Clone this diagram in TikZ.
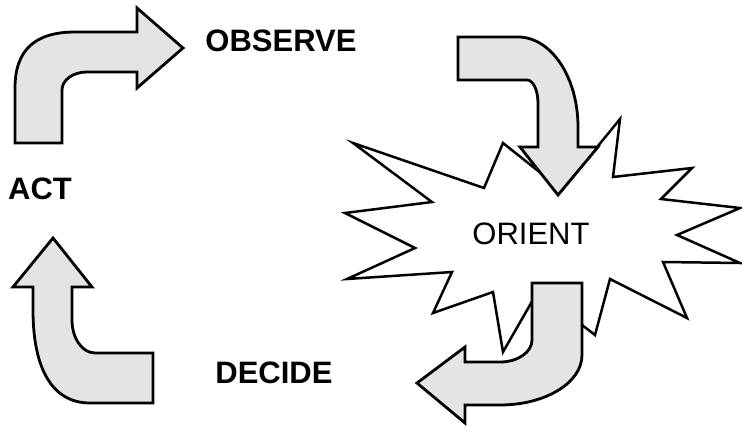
\documentclass[tikz,border=0pt]{standalone}
\usepackage{fontspec}
\setmainfont{Liberation Sans}
\usepackage{xcolor}
\definecolor{oodafill}{HTML}{E4E4E4}
\usepackage{tikz}
\tikzset{
  oodaarrow/.style={draw=black,fill=oodafill,line width=2.8pt,line join=miter},
  oodaburst/.style={draw=black,fill=white,line width=2.5pt,line join=miter},
  oodalabel/.style={font=\fontsize{31}{31}\selectfont\bfseries,inner sep=0pt},
  oodaplain/.style={font=\fontsize{31}{31}\selectfont,inner sep=0pt},
}

\begin{document}
\begin{tikzpicture}[x=1pt,y=-1pt]
\useasboundingbox (0,0) rectangle (742,426);
% starburst behind orient
\draw[oodaburst] (353,143) -- (484,188) -- (503,143) -- (562,190) -- (620,119) -- (613,177) -- (692,168) -- (661,199) -- (740,208) -- (677,235) -- (740,263) -- (663,262) -- (687,318) -- (610,279) -- (595,335) -- (538,291) -- (503,352) -- (493,292) -- (433,313) -- (452,272) -- (347,279) -- (415,248) -- (345,213) -- (432,202) -- cycle;
% act -> observe
\draw[oodaarrow] (15,143) -- (15,88) .. controls (15,50) and (35,32) .. (75,32) -- (137,32) -- (137,8) -- (183,48) -- (137,88) -- (137,72) -- (87,72) .. controls (73,72) and (62,80) .. (62,90) -- (62,143) -- cycle;
% observe -> orient
\draw[oodaarrow] (458,37) -- (518,37) .. controls (551,37) and (578,77) .. (578,127) -- (578,147) -- (598,147) -- (558,195) -- (520,147) -- (538,147) -- (538,103) .. controls (538,90) and (533,80) .. (527,80) -- (458,80) -- cycle;
% orient -> decide
\draw[oodaarrow] (532,283) -- (582,283) -- (582,355) .. controls (582,383) and (545,405) .. (500,405) -- (465,405) -- (465,423) -- (417,383) -- (465,347) -- (465,362) -- (500,362) .. controls (518,362) and (532,352) .. (532,340) -- cycle;
% decide -> act
\draw[oodaarrow] (53,238) -- (92,287) -- (72,287) -- (72,320) .. controls (72,338) and (82,353) .. (95,353) -- (153,353) -- (153,403) -- (90,403) .. controls (53,403) and (33,370) .. (33,310) -- (33,287) -- (13,287) -- cycle;
\node[oodalabel] (observe) at (281,40.5) {OBSERVE};
\node[oodaplain] (orient) at (531,233.5) {ORIENT};
\node[oodalabel] (decide) at (274,372.5) {DECIDE};
\node[oodalabel] (act) at (40,188.5) {ACT};
\end{tikzpicture}
\end{document}
